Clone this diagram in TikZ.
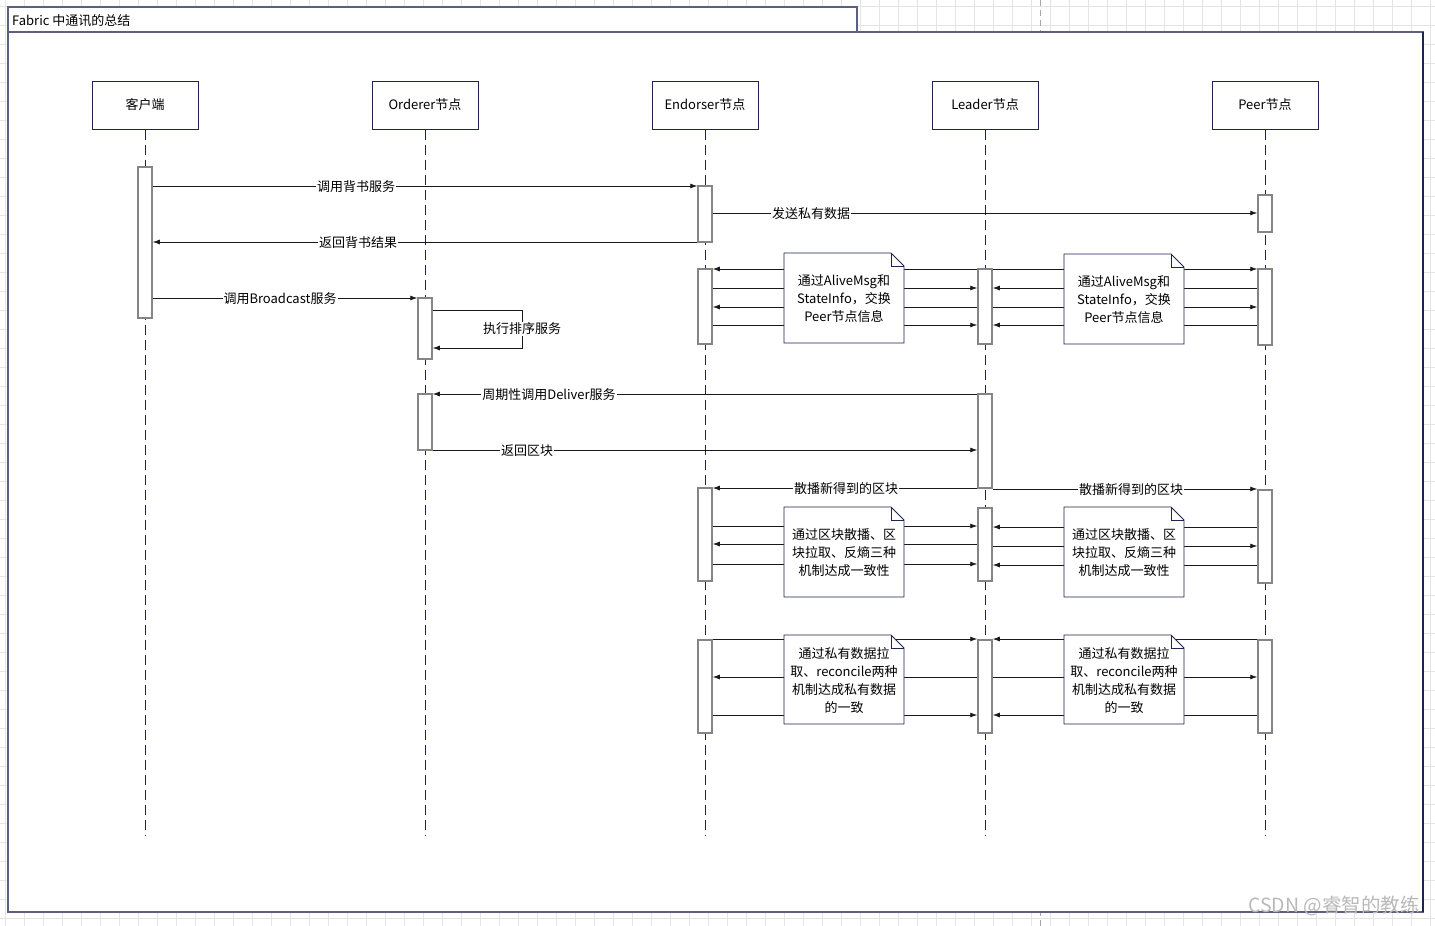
\documentclass[tikz,border=0pt]{standalone}
\usepackage{fontspec}
\setmainfont{Noto Sans CJK SC}
\usetikzlibrary{arrows.meta}
\definecolor{navy}{HTML}{1F2350}
\definecolor{framec}{HTML}{5B6080}
\definecolor{barc}{HTML}{858585}
\definecolor{gridc}{HTML}{E4E4E4}
\newcommand\fsz{\fontsize{13}{18}\selectfont}
\newcommand\actbar[4]{\node[actbar, minimum height={#4-#3}] (#1) at (#2,{(#3+#4)/2}) {};}
\newcommand\mynote[6]{%
  \draw[notebox] (#2,#3) -- (#4-13,#3) -- (#4,#3+13) -- (#4,#5) -- (#2,#5) -- cycle;
  \draw[notebox, fill=none] (#4-13,#3) -- (#4-13,#3+13) -- (#4,#3+13);
  \node[notetext] (#1) at ({(#2+#4)/2},{(#3+#5)/2+1}) {#6};}
\tikzset{
  lbox/.style={draw=navy, line width=1pt, fill=white, minimum width=106, minimum height=48, inner sep=0pt, font=\fsz},
  life/.style={draw=navy, line width=1pt, dash pattern=on 10pt off 5pt},
  actbar/.style={draw=barc, line width=1.5pt, fill=white, minimum width=14, inner sep=0pt},
  msg/.style={draw=black!90, line width=0.8pt, -{Latex[length=7pt,width=5pt]}},
  lab/.style={fill=white, inner sep=1pt, font=\fsz},
  notebox/.style={draw=navy, line width=0.9pt, fill=white, line join=miter},
  notetext/.style={align=center, font=\fsz, inner sep=0pt}
}
\begin{document}
\begin{tikzpicture}[x=1pt,y=-1pt]
\useasboundingbox (0,0) rectangle (1435,926);
% background grid
\fill[white] (0,0) rectangle (1435,926);
\foreach \i in {0,...,75} {\draw[gridc, line width=0.8pt] (5+19*\i,0) -- (5+19*\i,926);}
\foreach \j in {0,...,48} {\draw[gridc, line width=0.8pt] (0,6+19*\j) -- (1435,6+19*\j);}
\draw[gray!70, line width=0.8pt, dash pattern=on 6pt off 4pt] (1040,0) -- (1040,926);
% frame
\draw[framec, line width=1.5pt, fill=white] (8,7) rectangle (857,32);
\draw[framec, line width=1.5pt, fill=white] (8,32) rectangle (1423,912);
\draw[navy, line width=1.5pt] (1423,32) -- (1423,912);
\node[anchor=west, font=\fsz, inner sep=0pt] (title) at (12,21) {Fabric 中通讯的总结};
% lifeline heads
\node[lbox] (client) at (145,105) {客户端};
\node[lbox] (orderer) at (425,105) {Orderer节点};
\node[lbox] (endorser) at (705,105) {Endorser节点};
\node[lbox] (leader) at (985,105) {Leader节点};
\node[lbox] (peer) at (1265,105) {Peer节点};
\coordinate (cend) at (145,835);
\coordinate (oend) at (425,835);
\coordinate (eend) at (705,835);
\coordinate (lend) at (985,835);
\coordinate (pend) at (1265,835);
\draw[life] (client.south) -- (cend);
\draw[life] (orderer.south) -- (oend);
\draw[life] (endorser.south) -- (eend);
\draw[life] (leader.south) -- (lend);
\draw[life] (peer.south) -- (pend);
% activation bars
\actbar{cb}{145}{167}{318}
\actbar{eb1}{705}{186}{242}
\actbar{pb1}{1265}{195}{232}
\actbar{eb2}{705}{269}{344}
\actbar{lb1}{985}{269}{344}
\actbar{pb2}{1265}{269}{345}
\actbar{ob1}{425}{298}{359}
\actbar{ob2}{425}{394}{450}
\actbar{lb2}{985}{394}{488}
\actbar{eb3}{705}{488}{581}
\actbar{lb3}{985}{508}{581}
\actbar{pb3}{1265}{490}{583}
\actbar{eb4}{705}{640}{733}
\actbar{lb4}{985}{640}{733}
\actbar{pb4}{1265}{640}{733}
% messages
\draw[msg] (cb.east|-0,186) -- (eb1.west|-0,186);
\node[lab] (m1) at (356,187) {调用背书服务};
\draw[msg] (eb1.east|-0,213) -- (pb1.west|-0,213);
\node[lab] (m2) at (811,214) {发送私有数据};
\draw[msg] (eb1.west|-0,242) -- (cb.east|-0,242);
\node[lab] (m3) at (358,243) {返回背书结果};
\draw[msg] (cb.east|-0,298) -- (ob1.west|-0,298);
\node[lab] (m4) at (280,299) {调用Broadcast服务};
\coordinate (s1) at (522,310);
\coordinate (s2) at (522,348);
\draw[msg] (ob1.east|-0,310) -- (s1) -- (s2) -- (ob1.east|-0,348);
\node[lab] (m5) at (522,329) {执行排序服务};
\draw[msg] (lb2.west|-0,394) -- (ob2.east|-0,394);
\node[lab] (m6) at (549,395) {周期性调用Deliver服务};
\draw[msg] (ob2.east|-0,450) -- (lb2.west|-0,450);
\node[lab] (m7) at (527,451) {返回区块};
\draw[msg] (lb2.west|-0,488) -- (eb3.east|-0,488);
\node[lab] (m8) at (846,489) {散播新得到的区块};
\draw[msg] (lb2.east|-0,489) -- (pb3.west|-0,489);
\node[lab] (m9) at (1131,490) {散播新得到的区块};
% gossip exchange 1
\draw[msg] (lb1.west|-0,269) -- (eb2.east|-0,269);
\draw[msg] (eb2.east|-0,288) -- (lb1.west|-0,288);
\draw[msg] (lb1.west|-0,307) -- (eb2.east|-0,307);
\draw[msg] (eb2.east|-0,325) -- (lb1.west|-0,325);
\draw[msg] (lb1.east|-0,269) -- (pb2.west|-0,269);
\draw[msg] (pb2.west|-0,288) -- (lb1.east|-0,288);
\draw[msg] (lb1.east|-0,307) -- (pb2.west|-0,307);
\draw[msg] (pb2.west|-0,325) -- (lb1.east|-0,325);
\mynote{n1}{784}{253}{904}{343}{通过AliveMsg和\\StateInfo，交换\\Peer节点信息}
\mynote{n2}{1064}{254}{1184}{344}{通过AliveMsg和\\StateInfo，交换\\Peer节点信息}
% block dissemination
\draw[msg] (eb3.east|-0,526) -- (lb3.west|-0,526);
\draw[msg] (lb3.west|-0,544) -- (eb3.east|-0,544);
\draw[msg] (eb3.east|-0,564) -- (lb3.west|-0,564);
\draw[msg] (pb3.west|-0,527) -- (lb3.east|-0,527);
\draw[msg] (lb3.east|-0,546) -- (pb3.west|-0,546);
\draw[msg] (pb3.west|-0,565) -- (lb3.east|-0,565);
\mynote{n3}{784}{507}{904}{597}{通过区块散播、区\\块拉取、反熵三种\\机制达成一致性}
\mynote{n4}{1064}{507}{1184}{597}{通过区块散播、区\\块拉取、反熵三种\\机制达成一致性}
% private data
\draw[msg] (eb4.east|-0,639) -- (lb4.west|-0,639);
\draw[msg] (lb4.west|-0,677) -- (eb4.east|-0,677);
\draw[msg] (eb4.east|-0,715) -- (lb4.west|-0,715);
\draw[msg] (pb4.west|-0,639) -- (lb4.east|-0,639);
\draw[msg] (lb4.east|-0,677) -- (pb4.west|-0,677);
\draw[msg] (pb4.west|-0,715) -- (lb4.east|-0,715);
\mynote{n5}{784}{635}{904}{724}{通过私有数据拉\\取、reconcile两种\\机制达成私有数据\\的一致}
\mynote{n6}{1064}{635}{1184}{724}{通过私有数据拉\\取、reconcile两种\\机制达成私有数据\\的一致}
% watermark
\node[anchor=east, font=\fontsize{19.5}{21}\selectfont, text=gray!55, inner sep=0pt] (wm) at (1420,906) {CSDN @睿智的教练};
\end{tikzpicture}
\end{document}
